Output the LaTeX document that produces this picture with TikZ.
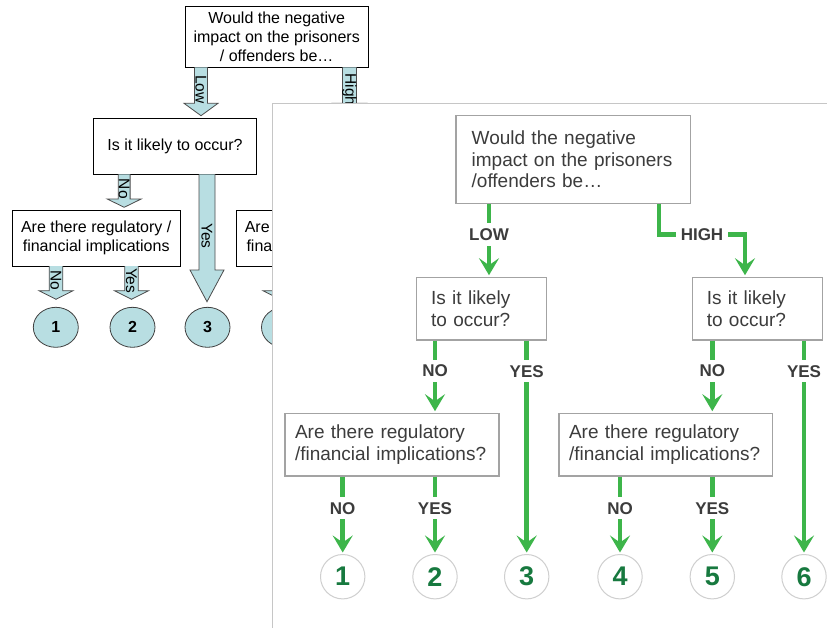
\documentclass[tikz,border=0pt]{standalone}
\usepackage{fontspec}
\setmainfont{Liberation Sans}
\usetikzlibrary{arrows.meta,shapes.geometric}

\definecolor{flowgreen}{HTML}{3DB54A}
\definecolor{numgreen}{HTML}{17793F}
\definecolor{textgrey}{HTML}{3C3C3C}
\definecolor{boxgrey}{HTML}{A3A3A3}
\definecolor{circgrey}{HTML}{CFCFCF}
\definecolor{panelgrey}{HTML}{C6C6C6}
\definecolor{oldblue}{HTML}{B8DEE2}

% block arrow of the old chart: x, top, neck, tip, half shaft, label
\newcommand{\oldarrow}[6]{%
  \filldraw[oldshape] (#1-#5,#2) -- (#1-#5,#3) -- (#1-17,#3) -- (#1,#4) -- (#1+17,#3) -- (#1+#5,#3) -- (#1+#5,#2);
  \node[oldlbl] at (#1,{(#2+#4)/2-2}) {#6};
}

\begin{document}
\begin{tikzpicture}[x=1pt, y=-1pt,
    oldbox/.style={draw=black, line width=0.8, fill=white, align=center, inner sep=0, font=\fontsize{16}{19.2}\selectfont},
    oldshape/.style={draw=black!70, fill=oldblue, line width=0.8, line join=miter},
    oldlbl/.style={rotate=-90, inner sep=0, font=\fontsize{15.5}{18}\selectfont},
    oldend/.style={ellipse, draw=black!75, fill=oldblue, line width=0.8, minimum width=45, minimum height=40, inner sep=0, font=\bfseries\fontsize{16}{18}\selectfont},
    panel/.style={draw=panelgrey, fill=white, line width=1},
    qbox/.style={draw=boxgrey, line width=1.3, fill=white, text=textgrey, align=left, inner ysep=0, font=\fontsize{19}{21.7}\selectfont},
    endpt/.style={circle, draw=circgrey, line width=1, fill=white, minimum size=44.4, inner sep=0, text=numgreen, font=\bfseries\fontsize{27}{30}\selectfont},
    flow/.style={draw=flowgreen, line width=4.5, -{Stealth[length=17pt, width=20pt, inset=7pt]}, shorten >=1.5pt},
    lbl/.style={fill=white, text=textgrey, inner xsep=4.5, inner ysep=5, font=\bfseries\fontsize{17}{19}\selectfont}]
  \useasboundingbox[fill=white] (0,0) rectangle (827,627);

  % old chart behind
  \node[oldbox, minimum width=183.3, minimum height=60.6] (otop) at (276.7,37) {Would the negative\\impact on the prisoners\\/ offenders be…};
  \node[oldbox, minimum width=163.4, minimum height=56] (olikely) at (175,146.3) {Is it likely to occur?};
  \node[oldbox, minimum width=167.7, minimum height=56] (oregL) at (96.2,238) {Are there regulatory /\\financial implications};
  \node[oldbox, minimum width=167.7, minimum height=56] (oregR) at (319.9,238) {Are there regulatory /\\financial implications};
  \node[oldend] (o1) at (55.8,327.3) {1};
  \node[oldend] (o2) at (132.5,327.3) {2};
  \node[oldend] (o3) at (207.5,327.3) {3};
  \node[oldend] (o4) at (284,327.3) {4};
  \oldarrow{201}{67.3}{103.3}{115.7}{6.5}{Low}
  \oldarrow{349.5}{67.3}{103.3}{115.7}{7}{High}
  \oldarrow{124.2}{174.3}{199}{207.3}{5.9}{No}
  \oldarrow{207}{174.3}{270}{301.7}{8}{Yes}
  \oldarrow{56}{266}{290.7}{299.3}{6.8}{No}
  \oldarrow{131.5}{266}{290.7}{299.3}{6.7}{Yes}
  \oldarrow{280}{266}{290.7}{299.3}{6.8}{No}

  % new chart on its panel
  \filldraw[panel] (272.5,103.5) rectangle (840,640);

  \node[qbox, text width=203.3, inner xsep=15.7, minimum height=87.6] (topq) at (573.3,159.5) {Would the negative\\impact on the prisoners\\/offenders be…};
  \node[qbox, text width=101.2, inner xsep=14.4, minimum height=62.7] (likelyL) at (481.7,308.7) {Is it likely\\to occur?};
  \node[qbox, text width=101.2, inner xsep=14.4, minimum height=62.7] (likelyR) at (757.4,308.7) {Is it likely\\to occur?};
  \node[qbox, text width=194, inner xsep=10, minimum height=62.7] (regL) at (392,444.7) {Are there regulatory\\/financial implications?};
  \node[qbox, text width=193.7, inner xsep=10, minimum height=62.7] (regR) at (665.9,444.7) {Are there regulatory\\/financial implications?};

  \node[endpt] (c1) at (342.7,576.7) {1};
  \node[endpt] (c2) at (435,576.7) {2};
  \node[endpt] (c3) at (526.7,576.7) {3};
  \node[endpt] (c4) at (620,576.7) {4};
  \node[endpt] (c5) at (712.3,576.7) {5};
  \node[endpt] (c6) at (804,576.7) {6};

  \draw[flow] (489,0 |- topq.south) -- node[lbl, pos=.42] {LOW} (489,0 |- likelyL.north);
  \draw[flow] (659,0 |- topq.south) -- (659,234.3) -- node[lbl] {HIGH} (745,234.3) -- (745,0 |- likelyR.north);

  \draw[flow] (435,0 |- likelyL.south) -- node[lbl, pos=.42] {NO} (435,0 |- regL.north);
  \draw[flow] (526.7,0 |- likelyL.south) -- node[lbl, pos=.143] {YES} (c3);
  \draw[flow] (712.3,0 |- likelyR.south) -- node[lbl, pos=.42] {NO} (712.3,0 |- regR.north);
  \draw[flow] (804,0 |- likelyR.south) -- node[lbl, pos=.143] {YES} (c6);

  \draw[flow] (c1 |- regL.south) -- node[lbl, pos=.41] {NO} (c1);
  \draw[flow] (c2 |- regL.south) -- node[lbl, pos=.41] {YES} (c2);
  \draw[flow] (c4 |- regR.south) -- node[lbl, pos=.41] {NO} (c4);
  \draw[flow] (c5 |- regR.south) -- node[lbl, pos=.41] {YES} (c5);
\end{tikzpicture}
\end{document}
